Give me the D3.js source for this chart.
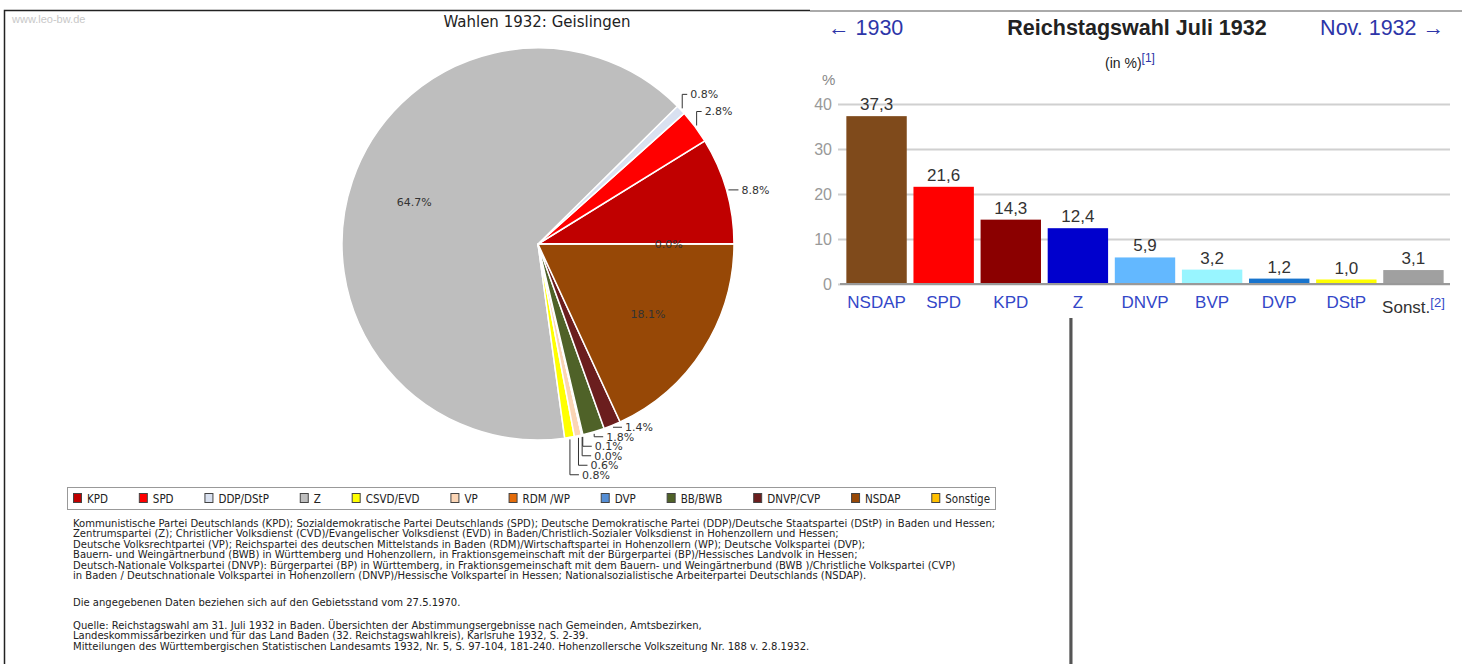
<!DOCTYPE html>
<html>
<head>
<meta charset="utf-8">
<script src="https://cdn.jsdelivr.net/npm/d3@7"></script>
<style>
  body { margin: 0; background: #fff; }
  svg { display: block; }
</style>
</head>
<body>
<div id="chart"></div>
<script>
// Pie data (Geislingen, Juli 1932)
var pieParties = ["KPD", "SPD", "DDP/DStP", "Z", "CSVD/EVD", "VP", "RDM /WP", "DVP", "BB/BWB", "DNVP/CVP", "NSDAP", "Sonstige"];
var pieValues = [8.8, 2.8, 0.8, 64.7, 0.8, 0.6, 0.0, 0.1, 1.8, 1.4, 18.1, 0.0];
var pieColors = ["#c00000", "#ff0000", "#d9e1f0", "#bebebe", "#ffff00", "#fbd5b5", "#e46c0a", "#558ed5", "#4f6228", "#6b1e1e", "#974806", "#ffc000"];

// Bar data (Reich, Juli 1932)
var barParties = ["NSDAP", "SPD", "KPD", "Z", "DNVP", "BVP", "DVP", "DStP", "Sonst."];
var barValues = [37.3, 21.6, 14.3, 12.4, 5.9, 3.2, 1.2, 1.0, 3.1];
var barColors = ["#7f4a1b", "#ff0000", "#8b0000", "#0000cd", "#63b8ff", "#98f5ff", "#1874cd", "#ffff00", "#a0a0a0"];
var yTicks = [0, 10, 20, 30, 40];

var footLines = [
  "Kommunistische Partei Deutschlands (KPD); Sozialdemokratische Partei Deutschlands (SPD); Deutsche Demokratische Partei (DDP)/Deutsche Staatspartei (DStP) in Baden und Hessen;",
  "Zentrumspartei (Z); Christlicher Volksdienst (CVD)/Evangelischer Volksdienst (EVD) in Baden/Christlich-Sozialer Volksdienst in Hohenzollern und Hessen;",
  "Deutsche Volksrechtpartei (VP); Reichspartei des deutschen Mittelstands in Baden (RDM)/Wirtschaftspartei in Hohenzollern (WP); Deutsche Volkspartei (DVP);",
  "Bauern- und Weingärtnerbund (BWB) in Württemberg und Hohenzollern, in Fraktionsgemeinschaft mit der Bürgerpartei (BP)/Hessisches Landvolk in Hessen;",
  "Deutsch-Nationale Volkspartei (DNVP): Bürgerpartei (BP) in Württemberg, in Fraktionsgemeinschaft mit dem Bauern- und Weingärtnerbund (BWB )/Christliche Volkspartei (CVP)",
  "in Baden / Deutschnationale Volkspartei in Hohenzollern (DNVP)/Hessische Volkspartei in Hessen; Nationalsozialistische Arbeiterpartei Deutschlands (NSDAP).",
  "",
  "Die angegebenen Daten beziehen sich auf den Gebietsstand vom 27.5.1970.",
  "",
  "Quelle: Reichstagswahl am 31. Juli 1932 in Baden. Übersichten der Abstimmungsergebnisse nach Gemeinden, Amtsbezirken,",
  "Landeskommissärbezirken und für das Land Baden (32. Reichstagswahlkreis), Karlsruhe 1932, S. 2-39.",
  "Mitteilungen des Württembergischen Statistischen Landesamts 1932, Nr. 5, S. 97-104, 181-240. Hohenzollersche Volkszeitung Nr. 188 v. 2.8.1932."
];

var svgWidth = 1470;
var svgHeight = 664;

var svg = d3.select("#chart")
  .append("svg")
  .attr("width", svgWidth)
  .attr("height", svgHeight);

var narrow = "'DejaVu Sans Condensed', 'Liberation Sans Narrow', 'Liberation Sans', sans-serif";

// ---------- left panel (pie) ----------
svg.append("rect")
  .attr("x", 4.5).attr("y", 10.5)
  .attr("width", 1066).attr("height", 700)
  .attr("fill", "#fff")
  .attr("stroke", "#222")
  .attr("stroke-width", 1.5);

svg.append("line")
  .attr("x1", 1071).attr("x2", 1071)
  .attr("y1", 300).attr("y2", 664)
  .attr("stroke", "#555")
  .attr("stroke-width", 3);

svg.append("text")
  .attr("x", 12).attr("y", 23)
  .style("font", "11px 'Liberation Sans', Arial, sans-serif")
  .attr("fill", "#c8c8c8")
  .text("www.leo-bw.de");

svg.append("text")
  .attr("x", 537).attr("y", 27)
  .attr("text-anchor", "middle")
  .style("font", "15px 'DejaVu Sans', Verdana, sans-serif")
  .attr("fill", "#222")
  .text("Wahlen 1932: Geislingen");

var cx = 538, cy = 244, radius = 196;

var pie = d3.pie()
  .sort(null)
  .value(function (d) { return d; })
  .startAngle(Math.PI / 2)
  .endAngle(Math.PI / 2 - 2 * Math.PI);

var slices = pie(pieValues);
var arc = d3.arc().innerRadius(0).outerRadius(radius);
var innerArc = d3.arc().innerRadius(radius * 2 / 3).outerRadius(radius * 2 / 3);
var edgeArc = d3.arc().innerRadius(radius + 2).outerRadius(radius + 2);

var pieG = svg.append("g")
  .attr("transform", "translate(" + cx + "," + cy + ")");

pieG.selectAll("path.slice")
  .data(slices)
  .enter()
  .append("path")
  .attr("class", "slice")
  .attr("d", arc)
  .attr("fill", function (d, i) { return pieColors[i]; })
  .attr("stroke", "#fff")
  .attr("stroke-width", 1.5);

var labelFont = "11px 'DejaVu Sans', Verdana, sans-serif";
function pct(v) { return v.toFixed(1) + "%"; }

// big slices (and the trailing 0.0%) get the label inside
var lower = [];
slices.forEach(function (d, i) {
  var inside = d.value >= 10 || i === slices.length - 1;
  if (inside) {
    var c = innerArc.centroid(d);
    pieG.append("text")
      .attr("x", c[0]).attr("y", c[1])
      .attr("dy", "0.35em")
      .attr("text-anchor", "middle")
      .style("font", labelFont)
      .attr("fill", "#333")
      .text(pct(d.value));
    return;
  }
  var a = edgeArc.centroid(d);
  if (a[1] < 0) {
    var path, tx, ty;
    if (d.value >= 5) {
      ty = a[1];
      path = "M" + a[0] + "," + a[1] + "H" + (a[0] + 10);
      tx = a[0] + 13;
    } else {
      ty = a[1] - 14;
      path = "M" + a[0] + "," + a[1] + "V" + ty + "H" + (a[0] + 5);
      tx = a[0] + 8;
    }
    pieG.append("path").attr("d", path).attr("fill", "none").attr("stroke", "#333");
    pieG.append("text")
      .attr("x", tx).attr("y", ty).attr("dy", "0.35em")
      .style("font", labelFont).attr("fill", "#333")
      .text(pct(d.value));
  } else {
    lower.push({ a: a, v: d.value });
  }
});

// stack the crowded labels at the bottom
lower.sort(function (p, q) { return q.a[0] - p.a[0]; });
var prevY = -Infinity;
lower.forEach(function (l) {
  var ly = Math.max(l.a[1], prevY + 9.5);
  prevY = ly;
  pieG.append("path")
    .attr("d", "M" + l.a[0] + "," + l.a[1] + "V" + ly + "H" + (l.a[0] + 9))
    .attr("fill", "none").attr("stroke", "#333");
  pieG.append("text")
    .attr("x", l.a[0] + 12).attr("y", ly).attr("dy", "0.35em")
    .style("font", labelFont).attr("fill", "#333")
    .text(pct(l.v));
});

// legend
var legG = svg.append("g");
legG.append("rect")
  .attr("x", 67.5).attr("y", 487.5)
  .attr("width", 928).attr("height", 22)
  .attr("fill", "#fff").attr("stroke", "#999");

var items = legG.selectAll("g.item")
  .data(pieParties)
  .enter()
  .append("g")
  .attr("class", "item");
items.append("rect")
  .attr("width", 8).attr("height", 9)
  .attr("y", 493.5)
  .attr("fill", function (d, i) { return pieColors[i]; })
  .attr("stroke", "#444");
items.append("text")
  .attr("y", 502.5)
  .style("font", "11.5px " + narrow)
  .attr("fill", "#222")
  .text(function (d) { return d; });

var widths = [];
items.select("text").each(function () { widths.push(this.getComputedTextLength()); });
var textTotal = d3.sum(widths) + pieParties.length * 14;
var gap = (990 - 73 - textTotal) / (pieParties.length - 1);
var xPos = 73;
items.each(function (d, i) {
  var g = d3.select(this);
  g.select("rect").attr("x", xPos + 0.5);
  g.select("text").attr("x", xPos + 14);
  xPos += 14 + widths[i] + gap;
});

// footnote text, scaled so the first line fills its width
var foot = svg.append("g");
var probe = foot.append("text").style("font", "10px " + narrow).text(footLines[0]);
var fs = 10 * (923 / probe.node().getComputedTextLength());
probe.remove();
var lineY = [527, 537.4, 547.8, 558.2, 568.6, 579, 0, 606, 0, 628.5, 639, 649.5];
foot.selectAll("text")
  .data(footLines)
  .enter()
  .append("text")
  .attr("x", 73)
  .attr("y", function (d, i) { return lineY[i]; })
  .style("font", fs.toFixed(2) + "px " + narrow)
  .attr("fill", "#222")
  .text(function (d) { return d; });

// ---------- right panel (bars) ----------
svg.append("rect")
  .attr("x", 810).attr("y", 0)
  .attr("width", 660).attr("height", 318)
  .attr("fill", "#fff");
svg.append("line")
  .attr("x1", 810).attr("x2", 1462)
  .attr("y1", 11).attr("y2", 11)
  .attr("stroke", "#aaa").attr("stroke-width", 2);

var arial = "'Liberation Sans', Arial, sans-serif";
var linkBlue = "#2d35a8";

svg.append("text")
  .attr("x", 828).attr("y", 35)
  .style("font", "21.5px " + arial)
  .attr("fill", linkBlue)
  .text("← 1930");
svg.append("text")
  .attr("x", 1137).attr("y", 35)
  .attr("text-anchor", "middle")
  .style("font", "bold 21.5px " + arial)
  .attr("fill", "#222")
  .text("Reichstagswahl Juli 1932");
svg.append("text")
  .attr("x", 1444).attr("y", 35)
  .attr("text-anchor", "end")
  .style("font", "21.5px " + arial)
  .attr("fill", linkBlue)
  .text("Nov. 1932 →");

var sub = svg.append("text")
  .attr("x", 1130).attr("y", 68)
  .attr("text-anchor", "middle")
  .style("font", "14px " + arial)
  .attr("fill", "#222");
sub.append("tspan").text("(in %)");
sub.append("tspan").attr("dy", -6).style("font-size", "12px").attr("fill", linkBlue).text("[1]");

svg.append("text")
  .attr("x", 822).attr("y", 85)
  .style("font", "15px " + arial)
  .attr("fill", "#888")
  .text("%");

var x = d3.scaleBand()
  .domain(barParties)
  .range([843, 1447])
  .paddingInner(0.1)
  .paddingOuter(0.05);

var y = d3.scaleLinear()
  .domain([0, 40])
  .range([284, 104]);

var yAxis = d3.axisLeft(y)
  .tickValues(yTicks)
  .tickSize(-(1450 - 838))
  .tickPadding(6);

var yG = svg.append("g")
  .attr("transform", "translate(838,0)")
  .call(yAxis);
yG.select(".domain").remove();
yG.selectAll(".tick line").attr("stroke", "#d0d0d0").attr("stroke-width", 2);
yG.selectAll(".tick text")
  .style("font", "16px " + arial)
  .attr("fill", "#999");

svg.selectAll("rect.bar")
  .data(barValues)
  .enter()
  .append("rect")
  .attr("class", "bar")
  .attr("x", function (d, i) { return x(barParties[i]); })
  .attr("y", function (d) { return y(d); })
  .attr("width", x.bandwidth())
  .attr("height", function (d) { return y(0) - y(d); })
  .attr("fill", function (d, i) { return barColors[i]; });

svg.append("line")
  .attr("x1", 840).attr("x2", 1450)
  .attr("y1", y(0)).attr("y2", y(0))
  .attr("stroke", "#999").attr("stroke-width", 2);

svg.selectAll("text.val")
  .data(barValues)
  .enter()
  .append("text")
  .attr("class", "val")
  .attr("x", function (d, i) { return x(barParties[i]) + x.bandwidth() / 2; })
  .attr("y", function (d) { return y(d) - 6; })
  .attr("text-anchor", "middle")
  .style("font", "17px " + arial)
  .attr("fill", "#333")
  .text(function (d) { return d.toFixed(1).replace(".", ","); });

var xAxis = d3.axisBottom(x).tickSize(0).tickPadding(12);
var xG = svg.append("g")
  .attr("transform", "translate(0," + y(0) + ")")
  .call(xAxis);
xG.select(".domain").remove();
xG.selectAll(".tick text")
  .style("font", "17px " + arial)
  .attr("fill", "#3347c8");
var lastTick = xG.selectAll(".tick text").filter(function (d) { return d === "Sonst."; });
lastTick.text(null).attr("fill", "#333").attr("dy", "1em");
lastTick.append("tspan").text("Sonst.");
lastTick.append("tspan").attr("dy", -6).style("font-size", "13px").attr("fill", "#3347c8").text("[2]");
</script>
</body>
</html>
